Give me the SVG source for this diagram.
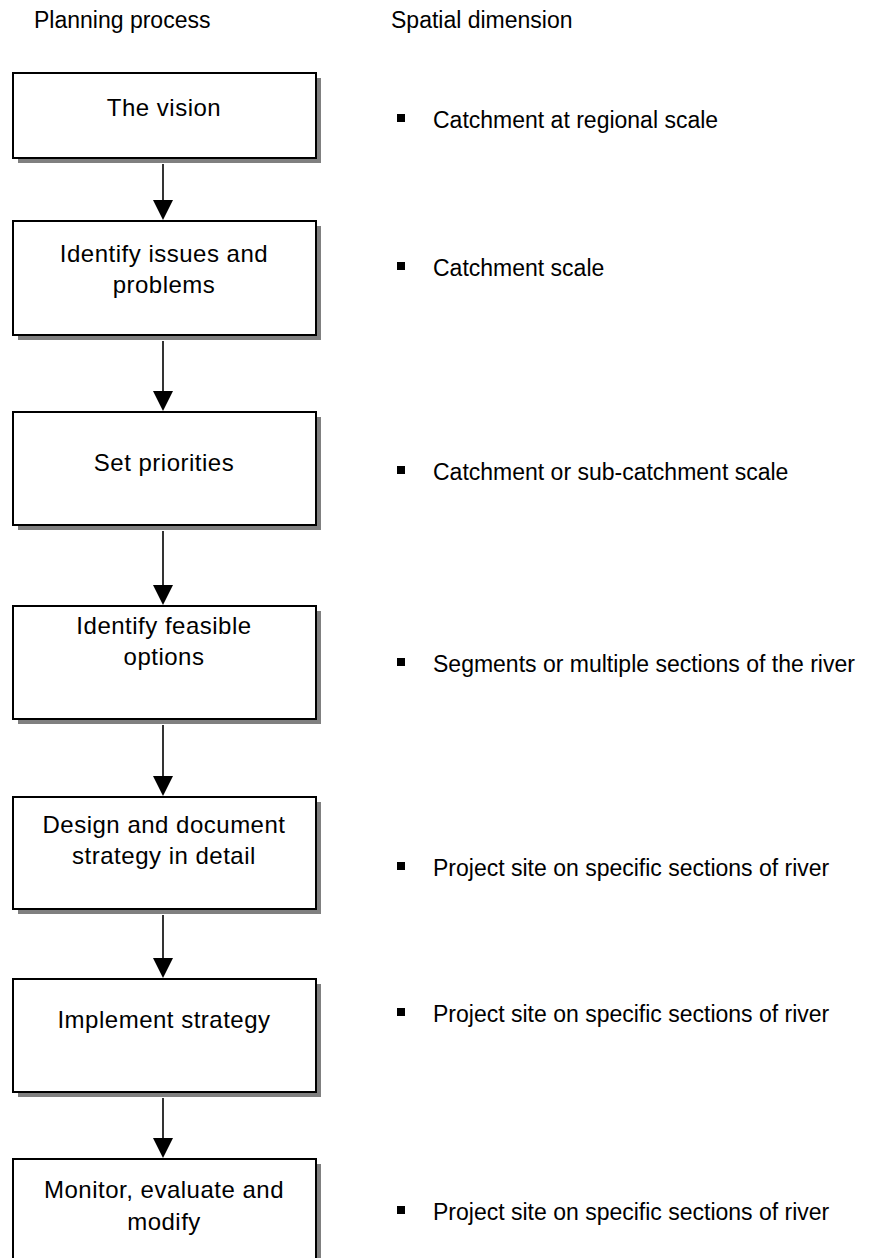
<svg xmlns="http://www.w3.org/2000/svg" width="880" height="1258" viewBox="0 0 880 1258">
<defs>
<style>
.shadow{fill:#808080;stroke:none}
.box{fill:#fff;stroke:#000;stroke-width:2}
.bt{font-family:"Liberation Sans",Arial,sans-serif;font-size:24px;letter-spacing:0.5px;fill:#000;text-anchor:middle}
.hd{font-family:"Liberation Sans",Arial,sans-serif;font-size:23px;fill:#000}
.it{font-family:"Liberation Sans",Arial,sans-serif;font-size:23px;fill:#000}
.conn line{stroke:#000;stroke-width:1.6}
.conn polygon{fill:#000}
.bul{fill:#000}
</style>
</defs>
<rect width="880" height="1258" fill="#fff"/>
<g id="headers">
<text class="hd" x="34" y="28">Planning process</text>
<text class="hd" x="391" y="28">Spatial dimension</text>
</g>
<g id="node1">
<rect class="shadow" x="18" y="78" width="303" height="85"/>
<rect class="box" x="13" y="73" width="303" height="85"/>
<text class="bt" x="164" y="116">The vision</text>
</g>
<g id="node2">
<rect class="shadow" x="18" y="226" width="303" height="114"/>
<rect class="box" x="13" y="221" width="303" height="114"/>
<text class="bt" x="164" y="262">Identify issues and</text>
<text class="bt" x="164" y="293">problems</text>
</g>
<g id="node3">
<rect class="shadow" x="18" y="417" width="303" height="113"/>
<rect class="box" x="13" y="412" width="303" height="113"/>
<text class="bt" x="164" y="471">Set priorities</text>
</g>
<g id="node4">
<rect class="shadow" x="18" y="611" width="303" height="113"/>
<rect class="box" x="13" y="606" width="303" height="113"/>
<text class="bt" x="164" y="634">Identify feasible</text>
<text class="bt" x="164" y="665">options</text>
</g>
<g id="node5">
<rect class="shadow" x="18" y="802" width="303" height="112"/>
<rect class="box" x="13" y="797" width="303" height="112"/>
<text class="bt" x="164" y="833">Design and document</text>
<text class="bt" x="164" y="864">strategy in detail</text>
</g>
<g id="node6">
<rect class="shadow" x="18" y="984" width="303" height="113"/>
<rect class="box" x="13" y="979" width="303" height="113"/>
<text class="bt" x="164" y="1028">Implement strategy</text>
</g>
<g id="node7">
<rect class="shadow" x="18" y="1164" width="303" height="120"/>
<rect class="box" x="13" y="1159" width="303" height="120"/>
<text class="bt" x="164" y="1198">Monitor, evaluate and</text>
<text class="bt" x="164" y="1230">modify</text>
</g>
<g id="connectors" class="conn">
<line x1="163" y1="164" x2="163" y2="200"/>
<polygon points="153,200 173,200 163,220"/>
<line x1="163" y1="341" x2="163" y2="391"/>
<polygon points="153,391 173,391 163,411"/>
<line x1="163" y1="531" x2="163" y2="585"/>
<polygon points="153,585 173,585 163,605"/>
<line x1="163" y1="725" x2="163" y2="776"/>
<polygon points="153,776 173,776 163,796"/>
<line x1="163" y1="915" x2="163" y2="958"/>
<polygon points="153,958 173,958 163,978"/>
<line x1="163" y1="1098" x2="163" y2="1138"/>
<polygon points="153,1138 173,1138 163,1158"/>
</g>
<g id="items">
<rect class="bul" x="397" y="114" width="8" height="8"/>
<text class="it" x="433" y="128">Catchment at regional scale</text>
<rect class="bul" x="397" y="262" width="8" height="8"/>
<text class="it" x="433" y="276">Catchment scale</text>
<rect class="bul" x="397" y="466" width="8" height="8"/>
<text class="it" x="433" y="480">Catchment or sub-catchment scale</text>
<rect class="bul" x="397" y="658" width="8" height="8"/>
<text class="it" x="433" y="672">Segments or multiple sections of the river</text>
<rect class="bul" x="397" y="862" width="8" height="8"/>
<text class="it" x="433" y="876">Project site on specific sections of river</text>
<rect class="bul" x="397" y="1008" width="8" height="8"/>
<text class="it" x="433" y="1022">Project site on specific sections of river</text>
<rect class="bul" x="397" y="1206" width="8" height="8"/>
<text class="it" x="433" y="1220">Project site on specific sections of river</text>
</g>
</svg>
